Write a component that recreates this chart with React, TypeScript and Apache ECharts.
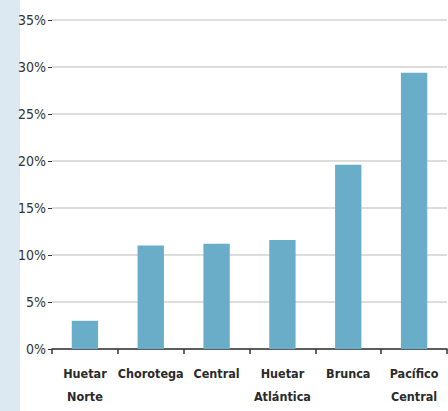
import React, { useEffect, useRef } from "react";
import * as echarts from "echarts";

const categories = ["Huetar\nNorte", "Chorotega", "Central", "Huetar\nAtlántica", "Brunca", "Pacífico\nCentral"];
const values = [3.0, 11.0, 11.2, 11.6, 19.6, 29.4];
const yTicks = [0, 5, 10, 15, 20, 25, 30, 35];

export default function App() {
  const ref = useRef<HTMLDivElement>(null);
  useEffect(() => {
    const chart = echarts.init(ref.current!, null, { renderer: "svg" });
    chart.setOption({
      animation: false,
      graphic: [
        { type: "rect", left: 0, top: 0, shape: { x: 0, y: 0, width: 20, height: 411 }, style: { fill: "#dce9f2" }, z: -1 },
      ],
      grid: { left: 52, right: 1, top: 20, bottom: 62, containLabel: false },
      xAxis: {
        type: "category",
        data: categories,
        axisLine: { show: true, lineStyle: { color: "#333", width: 1.5 } },
        axisTick: { show: true, length: 5, lineStyle: { color: "#333", width: 1.5 } },
        axisLabel: {
          interval: 0,
          margin: 13,
          color: "#2a2a2a",
          fontFamily: "'DejaVu Sans Condensed', sans-serif",
          fontWeight: "bold",
          fontSize: 12.5,
          lineHeight: 23,
        },
      },
      yAxis: {
        type: "value",
        min: 0,
        max: 35,
        interval: 5,
        axisLine: { show: false },
        axisTick: { show: true, length: 4, lineStyle: { color: "#333" } },
        splitLine: { show: true, lineStyle: { color: "#d2d2d2", width: 1.5 } },
        axisLabel: {
          margin: 6,
          color: "#333",
          fontFamily: "'DejaVu Sans Condensed', sans-serif",
          fontSize: 14,
          formatter: (v: number) => (yTicks.includes(v) ? v + "%" : ""),
        },
      },
      series: [
        {
          type: "bar",
          data: values,
          barWidth: "40%",
          itemStyle: { color: "#6aadc9" },
        },
      ],
    });
    return () => chart.dispose();
  }, []);
  return <div ref={ref} style={{ position: "absolute", left: 0, top: 0, width: 448, height: 411 }} />;
}
